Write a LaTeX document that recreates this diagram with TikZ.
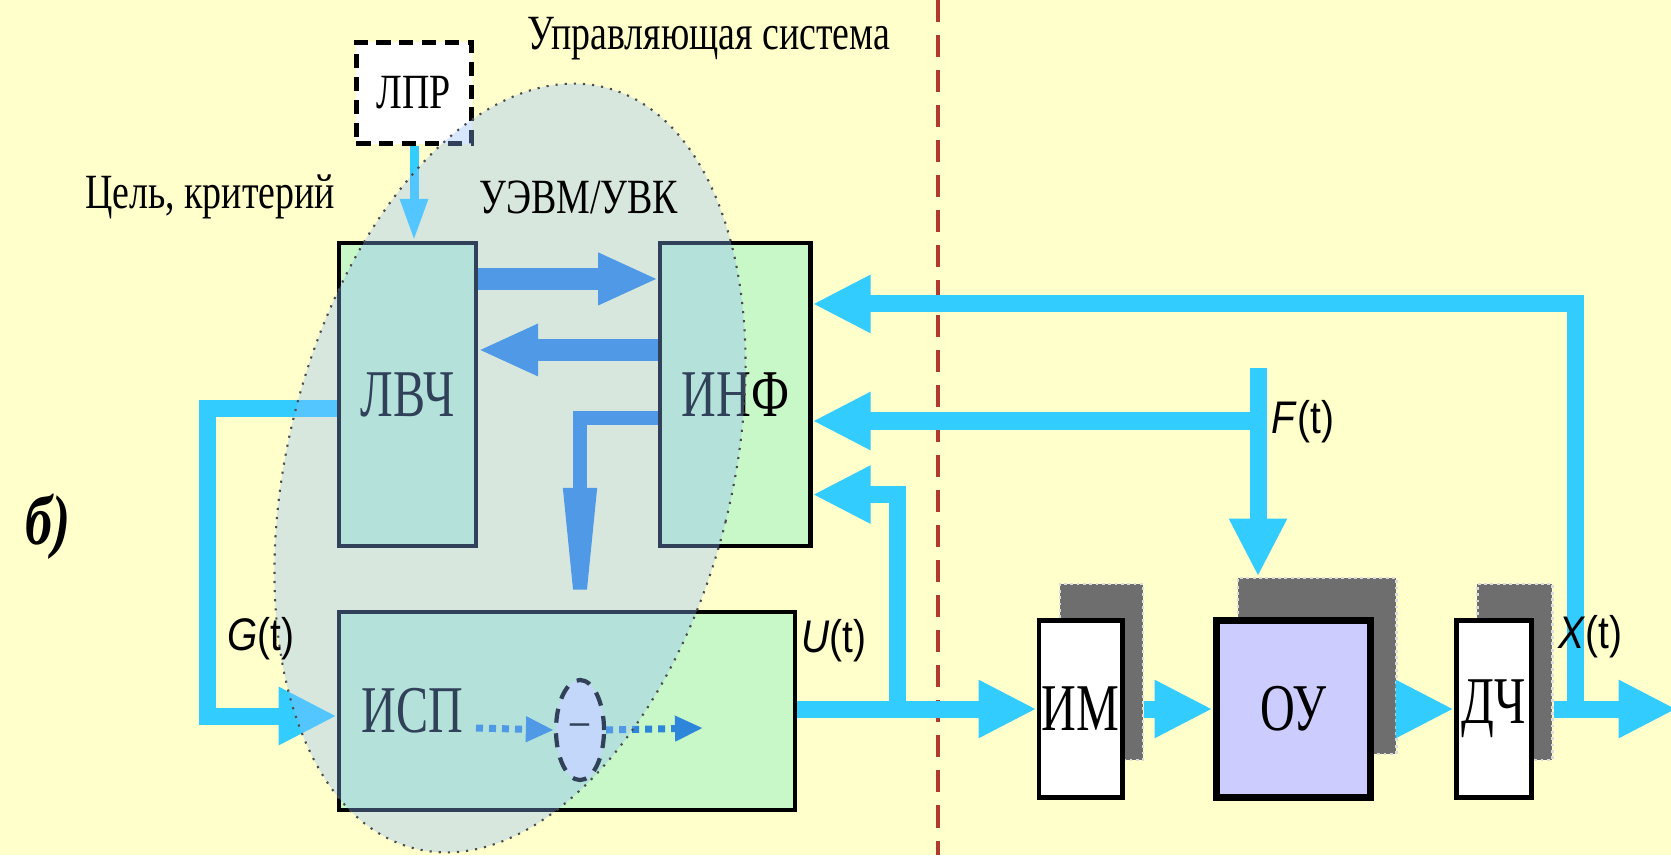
\documentclass[tikz,border=0pt]{standalone}
\usepackage{fontspec}
\setmainfont{Liberation Serif}[FakeStretch=0.77]
\setsansfont{Liberation Sans}[FakeStretch=0.85]
\newfontfamily\blockfont{Liberation Serif}[FakeStretch=0.72]
\usepackage{tikz}
\usetikzlibrary{arrows.meta,positioning,shapes.geometric,calc,backgrounds}
\definecolor{bgyellow}{HTML}{FFFFCC}
\definecolor{skyline}{HTML}{33CCFF}
\definecolor{deepline}{HTML}{2E86DA}
\definecolor{boxgreen}{HTML}{C8F7C8}
\definecolor{plantlilac}{HTML}{CCCCFF}
\definecolor{shadegray}{HTML}{6E6E6E}
\definecolor{divred}{HTML}{B03A2E}
\definecolor{uevmtint}{HTML}{8FBDFF}
\definecolor{sumfill}{HTML}{E0E6F8}
\tikzset{
  ctrlbox/.style={rectangle, draw=black, fill=boxgreen, line width=1.2pt,
    font=\blockfont\fontsize{19}{21}\selectfont},
  plantbox/.style={rectangle, draw=black, fill=#1, line width=1.4pt,
    minimum height=1.76cm, inner sep=0pt,
    font=\blockfont\fontsize{19}{21}\selectfont},
  plantbox/.default=white,
  shadebox/.style={rectangle, fill=shadegray, draw=white!75!shadegray,
    densely dotted, line width=0.8pt, minimum height=1.76cm},
  lprbox/.style={rectangle, draw=black, fill=white, line width=1.4pt,
    dash pattern=on 4pt off 2.5pt, minimum width=1.15cm, minimum height=1.01cm,
    font=\fontsize{14}{16}\selectfont},
  sumnode/.style={ellipse, draw=black, fill=sumfill, line width=1.2pt,
    dash pattern=on 4pt off 3pt, minimum width=0.48cm, minimum height=1.0cm,
    inner sep=0pt, font=\fontsize{14}{16}\selectfont},
  uevm/.style={ellipse, draw=black!70, dotted, line width=0.6pt,
    fill=uevmtint, fill opacity=0.35, minimum width=4.44cm,
    minimum height=7.84cm, rotate=-14},
  headtext/.style={font=\fontsize{14}{16}\selectfont, inner sep=1pt},
  sigtext/.style={font=\sffamily\fontsize{13}{15}\selectfont, inner sep=1pt},
  feedarrow/.style={draw=skyline, line width=0.17cm,
    -{Triangle[length=0.58cm,width=0.54cm]}},
  lprarrow/.style={draw=skyline, line width=0.09cm,
    -{Triangle[length=0.42cm,width=0.26cm]}},
  linkarrow/.style={draw=deepline, line width=0.22cm,
    -{Triangle[length=0.6cm,width=0.48cm]}},
  dotarrow/.style={draw=deepline, line width=0.07cm,
    dash pattern=on 0.07cm off 0.06cm, -{Triangle[length=0.28cm,width=0.24cm]}},
  divider/.style={draw=divred, line width=1pt, dash pattern=on 0.22cm off 0.13cm},
}

\begin{document}
\begin{tikzpicture}[x=0.01cm, y=-0.01cm]
\useasboundingbox (0,0) rectangle (1671,855);
\begin{scope}[on background layer]
\fill[bgyellow] (0,0) rectangle (1671,855);
\end{scope}
\draw[divider] (938,0) -- (938,855);

% control system
\node[lprbox] (lpr) at (414,93) {ЛПР};
\node[ctrlbox, minimum width=1.37cm, minimum height=3.03cm] (lvch) at (407.5,394.5) {ЛВЧ};
\node[ctrlbox, minimum width=1.50cm, minimum height=3.03cm, right=1.8cm of lvch] (inf) {ИНФ};
\node[ctrlbox, minimum width=4.56cm, minimum height=1.98cm, text width=4.1cm,
  align=left] (isp) at (567,711) {ИСП};
\node[sumnode] (sum) at (580,730) {–};

% plant
\node[plantbox, minimum width=0.83cm] (im) at (1080.5,709) {ИМ};
\node[plantbox=plantlilac, line width=2pt, minimum width=1.54cm, right=0.88cm of im] (ou) {ОУ};
\node[plantbox, minimum width=0.75cm, right=0.8cm of ou] (dch) {ДЧ};
\begin{scope}[on background layer]
\node[shadebox, minimum width=0.83cm] (imsh) at ($(im)+(21,-37)$) {};
\node[shadebox, minimum width=1.58cm] (oush) at ($(ou)+(24,-43)$) {};
\node[shadebox, minimum width=0.75cm] (dchsh) at ($(dch)+(21,-37)$) {};
\end{scope}

\coordinate (ufork) at ($(isp.east |- im.west)+(100,0)$);
\coordinate (xfork) at ($(dch.east)+(42,0)$);
\coordinate (xout) at ($(dch.east)+(143,0)$);
\coordinate (ftop) at (1258,368);
\coordinate (fjoin) at (1258,421);
\coordinate (din) at (476,728);
\coordinate (dout) at (703,728);

% links
\draw[lprarrow] (lpr.south) -- (lpr.south |- lvch.north);
\draw[linkarrow] ([yshift=1.155cm]lvch.east) -- ([yshift=1.155cm]inf.west);
\draw[linkarrow] ([yshift=0.445cm]inf.west) -- ([yshift=0.445cm]lvch.east);
\draw[linkarrow, line width=0.14cm, -{Triangle[length=1.9cm,width=0.3cm]}]
  ([yshift=-0.23cm]inf.west) -| (sum.north);
\draw[dotarrow] (din) -- (sum.west);
\draw[dotarrow] (sum.east) -- (dout);
\draw[feedarrow] ([yshift=-0.14cm]lvch.west) -- ++(-129,0) |- ([yshift=-0.05cm]isp.west);
\draw[feedarrow] (isp.east |- im.west) -- (im.west);
\draw[feedarrow] (ufork) |- ([yshift=-1.0cm]inf.east);
\draw[feedarrow] (imsh.east |- im.east) -- (ou.west);
\draw[feedarrow] (oush.east |- ou.east) -- (dch.west);
\draw[feedarrow] (dchsh.east |- dch.east) -- (xout);
\draw[feedarrow] (xfork) |- ([yshift=0.905cm]inf.east);
\draw[feedarrow] (ftop) -- (ftop |- oush.north);
\draw[feedarrow] (fjoin) -- (fjoin -| inf.east);

\node[uevm] (uevmarea) at (510,468) {};

% labels
\node[headtext] (ctrltitle) at (709,39) {Управляющая система};
\node[headtext] (goal) at (210,197) {Цель, критерий};
\node[headtext] (uevmname) at (579,197) {УЭВМ/УВК};
\node[sigtext] (glabel) at (261,639) {\textit{G}(t)};
\node[sigtext] (ulabel) at (834,641) {\textit{U}(t)};
\node[sigtext] (flabel) at (1303,422) {\textit{F}(t)};
\node[sigtext] (xlabel) at (1590,637) {\textit{X}(t)};
\node[font=\fontsize{20}{22}\selectfont\bfseries\itshape] (variant) at (48,527) {б)};
\end{tikzpicture}
\end{document}
